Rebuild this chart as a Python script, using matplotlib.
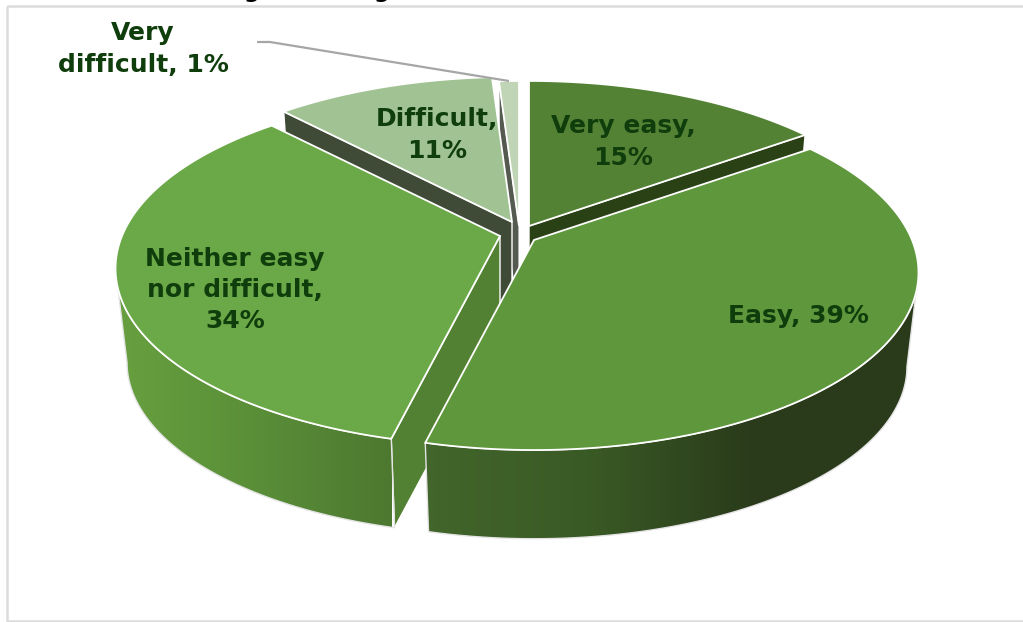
import numpy as np
import matplotlib.pyplot as plt
from matplotlib.colors import LinearSegmentedColormap
from matplotlib.patches import Polygon, Rectangle

# data
categories = ["Very easy", "Easy", "Neither easy nor difficult", "Difficult", "Very difficult"]
values = [15, 38.8, 34.2, 11, 1]
label_texts = ["Very easy,\n15%", "Easy, 39%", "Neither easy\nnor difficult,\n34%", "Difficult,\n11%", "Very\ndifficult, 1%"]

# layout of the exploded pie, in pixels
apex_x = [529, 534, 500, 512, 519]
apex_y = [226, 240, 236, 222, 226]
label_x = [623, 798, 235, 437, 143]
label_y = [142, 316, 290, 135, 49]
RX = 378.0
RY = 171.6
PERSP = 0.183
DEPTH = 95.0
BASE = 0.97

top_colors = ["#548235", "#5f973d", "#6ba847", "#a1c293", "#c0d5b5"]
text_color = "#0f3d0c"
border = "#dcdcdc"

plt.rcParams["font.family"] = "DejaVu Sans"

fig = plt.figure(figsize=(10.23, 6.22), dpi=100)
ax = fig.add_axes([0, 0, 1, 1])
ax.set_xlim(0, 1023)
ax.set_ylim(622, 0)
ax.axis("off")


def project(i, theta, r=1.0, base=False):
    # theta clockwise from the top, radians
    u = r * np.sin(theta)
    v = r * np.cos(theta)
    w = 1 + PERSP * v
    dx = RX * u / w
    dy = -RY * v / w
    if base:
        return apex_x[i] + BASE * dx, apex_y[i] + BASE * dy + DEPTH
    return apex_x[i] + dx, apex_y[i] + dy


def arc(i, a, b, base=False):
    th = np.linspace(a, b, 200)
    x, y = project(i, th, base=base)
    return np.column_stack([x, y])


def radial(i, a):
    # wall standing on the cut edge of slice i at angle a
    ex, ey = project(i, a)
    bx, by = project(i, a, base=True)
    return [(apex_x[i], apex_y[i]), (ex, ey), (bx, by), (apex_x[i], apex_y[i] + DEPTH)]


_z = [2]


def z():
    _z[0] += 1
    return _z[0]


def flat_wall(pts, color, lw=1.0):
    ax.add_patch(Polygon(pts, closed=True, facecolor=color, edgecolor="white", linewidth=lw, zorder=z()))


def gradient_wall(pts, colors, x0, x1):
    cmap = LinearSegmentedColormap.from_list("w", colors)
    z_now = z()
    im = ax.imshow(np.linspace(0, 1, 256).reshape(1, -1), cmap=cmap, extent=[x0, x1, 622, 0],
                   aspect="auto", zorder=z_now, interpolation="bilinear")
    patch = Polygon(pts, closed=True, facecolor="none", edgecolor="#e4e4e4", linewidth=1.0, zorder=z_now + 0.5)
    ax.add_patch(patch)
    im.set_clip_path(patch)
    ax.set_xlim(0, 1023)
    ax.set_ylim(622, 0)


def top_face(i, a, b):
    pts = np.vstack([[apex_x[i], apex_y[i]], arc(i, a, b)])
    ax.add_patch(Polygon(pts, closed=True, facecolor=top_colors[i], edgecolor="white", linewidth=1.3,
                         joinstyle="miter", zorder=z()))


# slice angles from the values
edges = np.cumsum([0] + values) / sum(values) * 2 * np.pi
start = edges[:-1]
end = edges[1:]

# where the disc is widest, the outer wall starts there
side = np.arccos(-PERSP)

# back slices first, front slices last
flat_wall(radial(4, start[4]), "#555a50", 0.8)
top_face(4, start[4], end[4])

flat_wall(radial(3, start[3]), "#3f4b36")
top_face(3, start[3], end[3])

flat_wall(radial(0, end[0]), "#2a4015")
top_face(0, start[0], end[0])

flat_wall(radial(2, start[2]), "#538133")
neither_wall = np.vstack([arc(2, start[2], 2 * np.pi - side), arc(2, start[2], 2 * np.pi - side, base=True)[::-1]])
gradient_wall(neither_wall, ["#68a040", "#5a8f38", "#4d7830"], 112, 392)
top_face(2, start[2], end[2])

easy_wall = np.vstack([arc(1, side, end[1]), arc(1, side, end[1], base=True)[::-1]])
gradient_wall(easy_wall, ["#42662c", "#3a5a25", "#2a3b1b", "#2a3b1b"], 420, 920)
top_face(1, start[1], end[1])

# leader line for the smallest slice
lead_x, lead_y = project(4, (start[4] + end[4]) / 2)
ax.plot([257, 270, lead_x], [42, 42, lead_y], color="#a6a6a6", lw=1.6, zorder=50, solid_capstyle="butt")

# labels
for i in range(len(values)):
    ax.text(label_x[i], label_y[i], label_texts[i], color=text_color, fontsize=18, fontweight="bold",
            ha="center", va="center", linespacing=1.39, zorder=60)

# chart frame
ax.add_patch(Rectangle((6.5, 5.5), 1030, 615, facecolor="none", edgecolor=border, linewidth=1.8, zorder=1, clip_on=True))

# cut-off title, only the tails of two letters show
for tx in [252, 382]:
    ax.text(tx, -2, "g", color="black", fontsize=16, fontweight="bold", ha="center", va="baseline", zorder=60)

fig.savefig("out.png", dpi=100)
